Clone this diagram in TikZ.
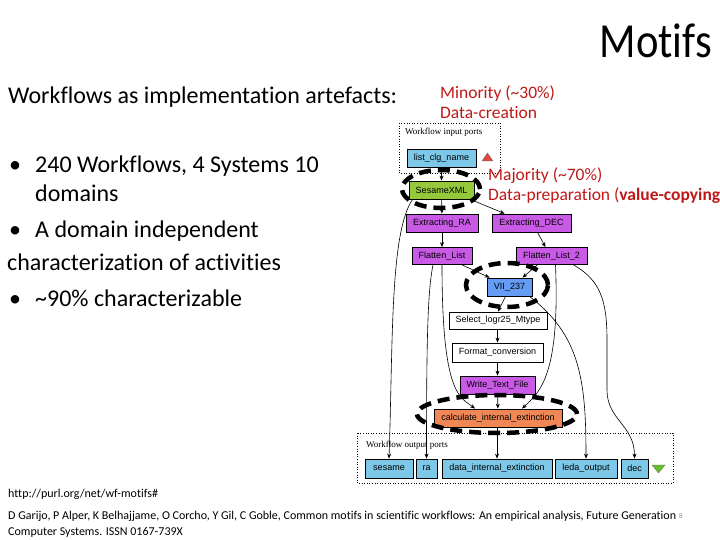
\documentclass[tikz,border=0pt]{standalone}
\usepackage{fontspec}
\setmainfont{Carlito}[Ligatures=NoCommon]
\newfontfamily\titlefont{Carlito}[Ligatures=NoCommon, FakeStretch=0.87]
\newfontfamily\diagsans{Liberation Sans}
\newfontfamily\diagserif{Liberation Serif}
\usetikzlibrary{arrows.meta,shapes.geometric}
\definecolor{portblue}{RGB}{125,200,232}
\definecolor{sesgreen}{RGB}{150,200,60}
\definecolor{procpurple}{RGB}{200,90,230}
\definecolor{viiblue}{RGB}{100,155,245}
\definecolor{calcorange}{RGB}{240,135,85}
\definecolor{slidered}{RGB}{192,24,24}
\definecolor{trired}{RGB}{225,70,70}
\definecolor{trigreen}{RGB}{100,190,40}
\begin{document}
\begin{tikzpicture}[x=1pt,y=-1pt,
  box/.style={draw=black, line width=0.8pt, inner sep=0pt, minimum height=18pt,
    font=\diagsans\fontsize{9}{9}\selectfont},
  port/.style={box, fill=portblue},
  proc/.style={box, fill=procpurple},
  plain/.style={box, fill=white},
  flow/.style={line width=0.6pt, -{Stealth[length=5pt,width=4pt]}},
  portarea/.style={draw=black, line width=0.6pt, dotted},
  portlabel/.style={font=\diagserif\fontsize{9}{9}\selectfont, anchor=west, inner sep=0pt},
  ring/.style={ellipse, draw=black, line width=4.5pt, dash pattern=on 12pt off 7pt, inner sep=0pt},
  slide/.style={anchor=base west, inner sep=0pt, font=\fontsize{24}{28}\selectfont},
  redtxt/.style={anchor=base west, inner sep=0pt, text=slidered, font=\fontsize{17.5}{20}\selectfont},
  foot/.style={anchor=base west, inner sep=0pt, font=\fontsize{12}{14}\selectfont}
]
\useasboundingbox (0,0) rectangle (720,540);
\fill[white] (0,0) rectangle (720,540);

% port areas
\draw[portarea] (399,123) rectangle (500,173);
\node[portlabel] (inlab) at (405,132) {Workflow input ports};
\draw[portarea] (357,433) rectangle (673,483);
\node[portlabel] (outlab) at (366,445) {Workflow output ports};

% processors
\node[port, minimum width=69pt] (lcn) at (441.5,158) {list\_clg\_name};
\node[box, fill=sesgreen, minimum width=65pt] (sxml) at (441.5,190) {SesameXML};
\node[proc, minimum width=72pt] (era) at (442,223) {Extracting\_RA};
\node[proc, minimum width=79pt] (edec) at (531.5,223) {Extracting\_DEC};
\node[proc, minimum width=60pt, minimum height=17pt] (fl) at (442,256) {Flatten\_List};
\node[proc, minimum width=71pt, minimum height=17pt] (fl2) at (551.5,256) {Flatten\_List\_2};
\node[box, fill=viiblue, minimum width=45pt] (vii) at (509.5,287) {VII\_237};
\node[plain, minimum width=98pt, minimum height=17pt] (sel) at (498,320.5) {Select\_logr25\_Mtype};
\node[plain, minimum width=91pt, minimum height=19pt] (fmt) at (497.5,352.5) {Format\_conversion};
\node[proc, minimum width=75pt] (wtf) at (497.5,385) {Write\_Text\_File};
\node[box, fill=calcorange, minimum width=128pt] (calc) at (498,418) {calculate\_internal\_extinction};

% output ports
\node[port, minimum width=48pt, minimum height=19pt] (osesame) at (389,468.5) {sesame};
\node[port, minimum width=21pt, minimum height=19pt] (ora) at (426.5,468.5) {ra};
\node[port, minimum width=110pt, minimum height=19pt] (odie) at (497,468.5) {data\_internal\_extinction};
\node[port, minimum width=62pt, minimum height=19pt] (oleda) at (586,468.5) {leda\_output};
\node[port, minimum width=27pt, minimum height=19pt] (odec) at (634.5,468.5) {dec};

% triangles
\fill[trired, draw=black!60, line width=0.3pt] (482,161) -- (493,161) -- (487.5,153) -- cycle;
\fill[trigreen, draw=black!60, line width=0.3pt] (652,465) -- (665,465) -- (658.5,473) -- cycle;

% links
\draw[flow] (lcn) -- (sxml);
\draw[flow] (sxml) -- (era);
\draw[flow] ([xshift=-4pt]sxml.south east) -- ([xshift=13pt]edec.north west);
\draw[flow] ([xshift=4pt]sxml.south west) .. controls (390,232) and (393,340) .. (osesame.north);
\draw[flow] (era) -- (fl);
\draw[flow] ([xshift=6pt]edec.south) -- ([xshift=-6pt]fl2.north);
\draw[flow] ([xshift=20pt]fl.south) -- ([xshift=3pt]vii.north west);
\draw[flow] ([xshift=-14pt]fl2.south) -- ([xshift=13pt]vii.north);
\draw[flow] ([xshift=-9pt]fl.south) .. controls (428,290) and (426.5,330) .. (ora.north);
\draw[flow] (fl.south) .. controls (442,395) and (460,397) .. ([xshift=-23pt]calc.north);
\draw[flow] ([xshift=4pt]fl2.south) .. controls (560,375) and (540,392) .. ([xshift=24pt]calc.north);
\draw[flow] ([xshift=22pt]fl2.south) .. controls (600,280) and (607,300) .. (607,340)
   -- (607,390) .. controls (607,420) and (634.5,425) .. (odec.north);
\draw[flow] ([xshift=-3pt]vii.south east) .. controls (580,335) and (586,380) .. (oleda.north);
\draw[flow] ([xshift=-4pt]vii.south) -- (sel.north);
\draw[flow] ([xshift=-0.5pt]sel.south) -- (fmt.north);
\draw[flow] (fmt) -- (wtf);
\draw[flow] (wtf) -- (calc);
\draw[flow] ([xshift=-1pt]calc.south) -- (odie.north);

% motif rings
\node[ring, minimum width=78pt, minimum height=38pt] (ring1) at (441,189) {};
\node[ring, minimum width=82pt, minimum height=44pt] (ring2) at (507,285) {};
\node[ring, minimum width=160pt, minimum height=38pt] (ring3) at (497,414) {};

% slide text
\node[anchor=base east, inner sep=0pt, font=\titlefont\fontsize{49}{52}\selectfont] (title) at (712,58) {Motifs};
\node[slide] (head) at (8,104) {Workflows as implementation artefacts:};
\node[slide] (b1dot) at (9,173) {\textbullet};
\node[slide] (b1) at (35,173) {240 Workflows, 4 Systems 10};
\node[slide] (b1b) at (35,202) {domains};
\node[slide] (b2dot) at (9,237) {\textbullet};
\node[slide] (b2) at (35,237) {A domain independent};
\node[slide] (b2b) at (7,270) {characterization of activities};
\node[slide] (b3dot) at (9,306) {\textbullet};
\node[slide] (b3) at (35,306) {\textasciitilde90\% characterizable};

\node[redtxt] (min1) at (440,99) {Minority (\textasciitilde30\%)};
\node[redtxt] (min2) at (440,119) {Data-creation};
\node[redtxt] (maj1) at (488,181) {Majority (\textasciitilde70\%)};
\node[redtxt] (maj2) at (488,201) {Data-preparation (\textbf{value-copying})};

\node[foot] (url) at (8,497) {http://purl.org/net/wf-motifs\#};
\node[foot] (cite1) at (8,519) {D Garijo, P Alper, K Belhajjame, O Corcho, Y Gil, C Goble, Common motifs in scientific workflows: An empirical analysis, Future Generation};
\node[foot] (cite2) at (8,535) {Computer Systems. ISSN 0167-739X};
\node[anchor=base west, inner sep=0pt, text=black!45, font=\fontsize{7}{8}\selectfont] (pgno) at (679,518) {8};
\end{tikzpicture}
\end{document}
